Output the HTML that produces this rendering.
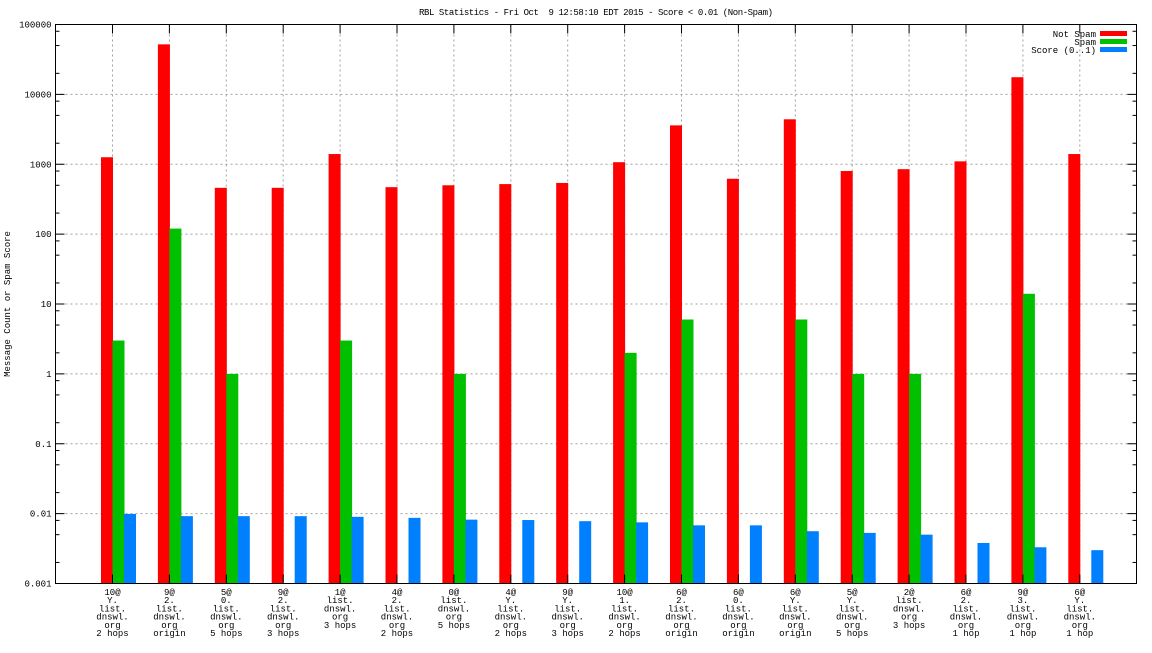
<!DOCTYPE html>
<html><head><meta charset="utf-8"><style>
body{margin:0;background:#fff}
svg text{font-family:"Liberation Mono","DejaVu Sans Mono",monospace;font-size:9px;fill:#000}
</style></head><body>
<svg id="chart" width="1152" height="648" xmlns="http://www.w3.org/2000/svg">
<text x="596" y="15" text-anchor="middle" textLength="354" style="white-space:pre">RBL Statistics - Fri Oct  9 12:58:10 EDT 2015 - Score &lt; 0.01 (Non-Spam)</text>
<text transform="translate(10,304) rotate(-90)" text-anchor="middle">Message Count or Spam Score</text>
<g id="grid"></g><g id="bars"></g><g id="axes"></g><g id="labels"></g>
<g>
<text x="1096" y="37" text-anchor="end">Not Spam</text><rect x="1100" y="31" width="27" height="5" fill="#ff0000"/>
<text x="1096" y="45" text-anchor="end">Spam</text><rect x="1100" y="39" width="27" height="5" fill="#00c000"/>
<text x="1096" y="53" text-anchor="end">Score (0..1)</text><rect x="1100" y="47" width="27" height="5" fill="#0080ff"/>
</g>
</svg>
<script>
const categories=[["10@","Y.","list.","dnswl.","org","2 hops"],["9@","2.","list.","dnswl.","org","origin"],["5@","0.","list.","dnswl.","org","5 hops"],["9@","2.","list.","dnswl.","org","3 hops"],["1@","list.","dnswl.","org","3 hops"],["4@","2.","list.","dnswl.","org","2 hops"],["0@","list.","dnswl.","org","5 hops"],["4@","Y.","list.","dnswl.","org","2 hops"],["9@","Y.","list.","dnswl.","org","3 hops"],["10@","1.","list.","dnswl.","org","2 hops"],["6@","2.","list.","dnswl.","org","origin"],["6@","0.","list.","dnswl.","org","origin"],["6@","Y.","list.","dnswl.","org","origin"],["5@","Y.","list.","dnswl.","org","5 hops"],["2@","list.","dnswl.","org","3 hops"],["6@","2.","list.","dnswl.","org","1 hop"],["9@","3.","list.","dnswl.","org","1 hop"],["6@","Y.","list.","dnswl.","org","1 hop"]];
const notSpam=[1260,52000,460,460,1400,470,500,520,540,1070,3600,620,4400,800,850,1100,17600,1400];
const spam=[3,120,1,0,3,0,1,0,0,2,6,0,6,1,1,0,14,0];
const score=[0.0099,0.0092,0.0092,0.0092,0.009,0.0087,0.0082,0.0081,0.0078,0.0075,0.0068,0.0068,0.0056,0.0053,0.0050,0.0038,0.0033,0.0030];
const yTicks=[0.001,0.01,0.1,1,10,100,1000,10000,100000];
const yTickLabels=["0.001","0.01","0.1","1","10","100","1000","10000","100000"];
const L=55.5,R=1136.5,T=24.5,B=583.5;
const y=v=>B-(B-T)*(Math.log10(v)+3)/8;
const x=i=>112.5+56.9*i;
const NS="http://www.w3.org/2000/svg";
function mk(tag,parent,a){const e=document.createElementNS(NS,tag);for(const k in a)e.setAttribute(k,a[k]);document.getElementById(parent).appendChild(e);return e;}
yTicks.forEach((v,k)=>{if(k>0&&k<yTicks.length-1){const g=mk('line','grid',{x1:L,x2:R,y1:y(v),y2:y(v),stroke:'#a0a0a0','stroke-dasharray':'2,3'});

}
const t=mk('text','axes',{x:L-4,y:y(v)+3,'text-anchor':'end'});t.textContent=yTickLabels[k];


[[L,L+9],[R-9,R]].forEach(p=>{const m=mk('line','axes',{x1:p[0],x2:p[1],y1:y(v),y2:y(v),stroke:'#000'});

});
if(k<yTicks.length-1)[2,5,8].forEach(f=>{[[L,L+4],[R-4,R]].forEach(p=>{const m=mk('line','axes',{x1:p[0],x2:p[1],y1:y(v*f),y2:y(v*f),stroke:'#000'});

});});
});
categories.forEach((c,i)=>{const g=mk('line','grid',{x1:x(i),x2:x(i),y1:T,y2:B,stroke:'#a0a0a0','stroke-dasharray':'2,3'});


[[T,T+9],[B-9,B]].forEach(p=>{const m=mk('line','axes',{x1:x(i),x2:x(i),y1:p[0],y2:p[1],stroke:'#000'});

});
const t=mk('text','labels',{x:x(i),y:595,'text-anchor':'middle'});


c.forEach((s,j)=>{const ts=document.createElementNS(NS,'tspan');ts.setAttribute('x',x(i));ts.setAttribute('dy',j?8.2:0);ts.textContent=s;t.appendChild(ts);});
const series=[[notSpam,'#ff0000',-11.5,'bar-not-spam'],[spam,'#00c000',0,'bar-spam'],[score,'#0080ff',11.5,'bar-score']];
series.forEach(s=>{const v=s[0][i];if(v>0.001){const r=mk('rect','bars',{x:x(i)+s[2],y:y(v),width:12,height:B-y(v),fill:s[1]});

}});
});
const fr=mk('rect','axes',{x:L,y:T,width:R-L,height:B-T,fill:'none',stroke:'#000'});


</script>
</body></html>
